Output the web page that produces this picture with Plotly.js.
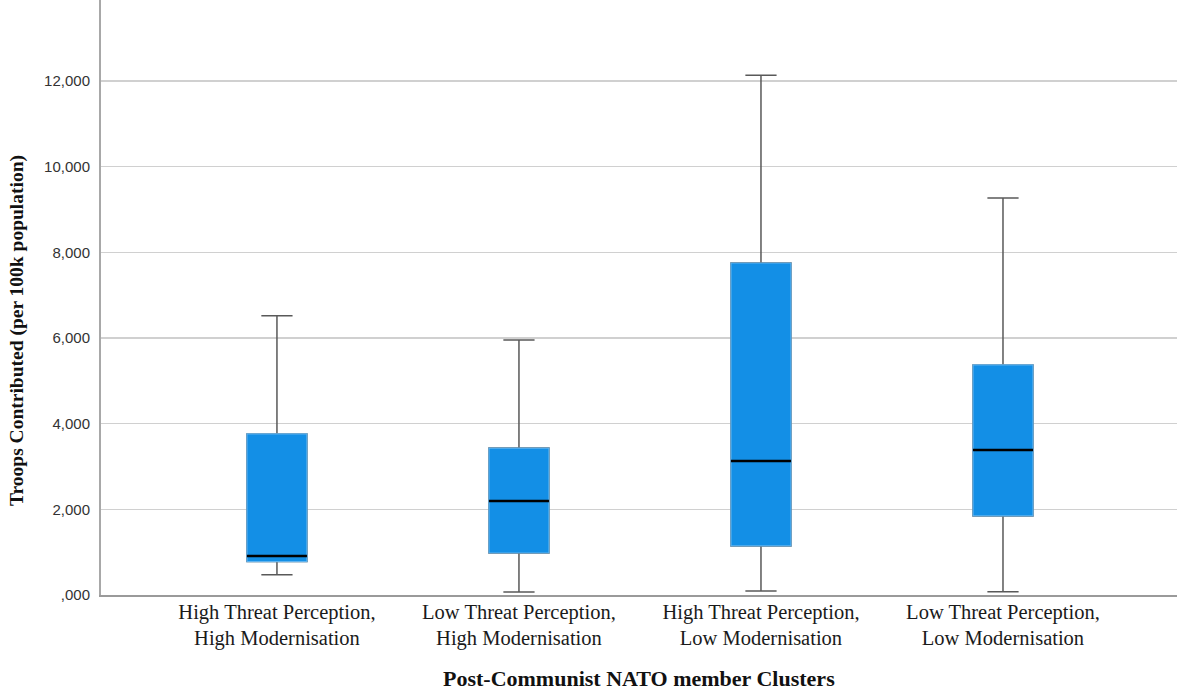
<!DOCTYPE html>
<html>
<head>
<meta charset="utf-8">
<script src="https://cdn.plot.ly/plotly-3.0.1.min.js"></script>
<style>html,body{margin:0;padding:0;background:#fff;}#chart{width:1178px;height:692px;}</style>
</head>
<body>
<div id="chart"></div>
<script>
const categories = [
  "High Threat Perception,<br>High Modernisation",
  "Low Threat Perception,<br>High Modernisation",
  "High Threat Perception,<br>Low Modernisation",
  "Low Threat Perception,<br>Low Modernisation"
];
const lowerWhisker = [470, 70, 95, 75];
const q1Values = [780, 980, 1145, 1845];
const medianValues = [910, 2195, 3130, 3385];
const q3Values = [3760, 3430, 7750, 5370];
const upperWhisker = [6520, 5955, 12135, 9265];
const yTickVals = [0, 2000, 4000, 6000, 8000, 10000, 12000];
const yTickText = [",000", "2,000", "4,000", "6,000", "8,000", "10,000", "12,000"];

const boxW = 0.248;
const whiskers = {
  type: 'box', x: categories, q1: q1Values, median: medianValues, q3: q3Values,
  lowerfence: lowerWhisker, upperfence: upperWhisker,
  width: boxW, whiskerwidth: 0.52, boxpoints: false,
  line: {color: '#595959', width: 1.5}, fillcolor: 'rgba(0,0,0,0)',
  hoverinfo: 'skip', showlegend: false
};
const body = {
  type: 'box', x: categories, q1: q1Values, median: medianValues, q3: q3Values,
  lowerfence: q1Values, upperfence: q3Values,
  width: boxW, whiskerwidth: 0, boxpoints: false,
  line: {color: '#62b4ee', width: 1.2}, fillcolor: '#138fe6',
  hoverinfo: 'skip', showlegend: false
};
const median = {
  type: 'box', x: categories, q1: medianValues, median: medianValues, q3: medianValues,
  lowerfence: medianValues, upperfence: medianValues,
  width: boxW, whiskerwidth: 0, boxpoints: false,
  line: {color: '#000000', width: 2.5}, fillcolor: 'rgba(0,0,0,0)',
  hoverinfo: 'skip', showlegend: false
};

const layout = {
  width: 1178, height: 692,
  margin: {l: 101, r: 1, t: 0, b: 97},
  paper_bgcolor: '#ffffff', plot_bgcolor: '#ffffff',
  boxmode: 'overlay',
  xaxis: {
    type: 'category', range: [-0.727, 3.719],
    showgrid: false, zeroline: false,
    showline: true, linecolor: '#9a9a9a', linewidth: 2,
    ticks: '', ticklabelstandoff: -3,
    tickfont: {family: 'Liberation Serif, Times New Roman, serif', size: 20.5, color: '#1a1a1a'},
    fixedrange: true
  },
  yaxis: {
    range: [0, 13890], tickvals: yTickVals, ticktext: yTickText,
    showgrid: true, gridcolor: '#d0d0d0', gridwidth: 1.6,
    zeroline: false, showline: true, linecolor: '#a8a8a8', linewidth: 2,
    ticks: '', ticklabelstandoff: 6,
    tickfont: {family: 'Liberation Sans, Arial, sans-serif', size: 15, color: '#333'},
    fixedrange: true
  },
  annotations: [
    {text: '<b>Troops Contributed (per 100k population)</b>', xref: 'paper', yref: 'paper',
     x: -0.078, y: 0.4437, xanchor: 'center', yanchor: 'middle', textangle: -90, showarrow: false,
     font: {family: 'Liberation Serif, Times New Roman, serif', size: 19.5, color: '#111'}},
    {text: '<b>Post-Communist NATO member Clusters</b>', xref: 'paper', yref: 'paper',
     x: 0.5, y: -0.141, xanchor: 'center', yanchor: 'middle', showarrow: false,
     font: {family: 'Liberation Serif, Times New Roman, serif', size: 22, color: '#111'}}
  ]
};

Plotly.newPlot('chart', [whiskers, body, median], layout, {displayModeBar: false, staticPlot: true});
</script>
</body>
</html>
